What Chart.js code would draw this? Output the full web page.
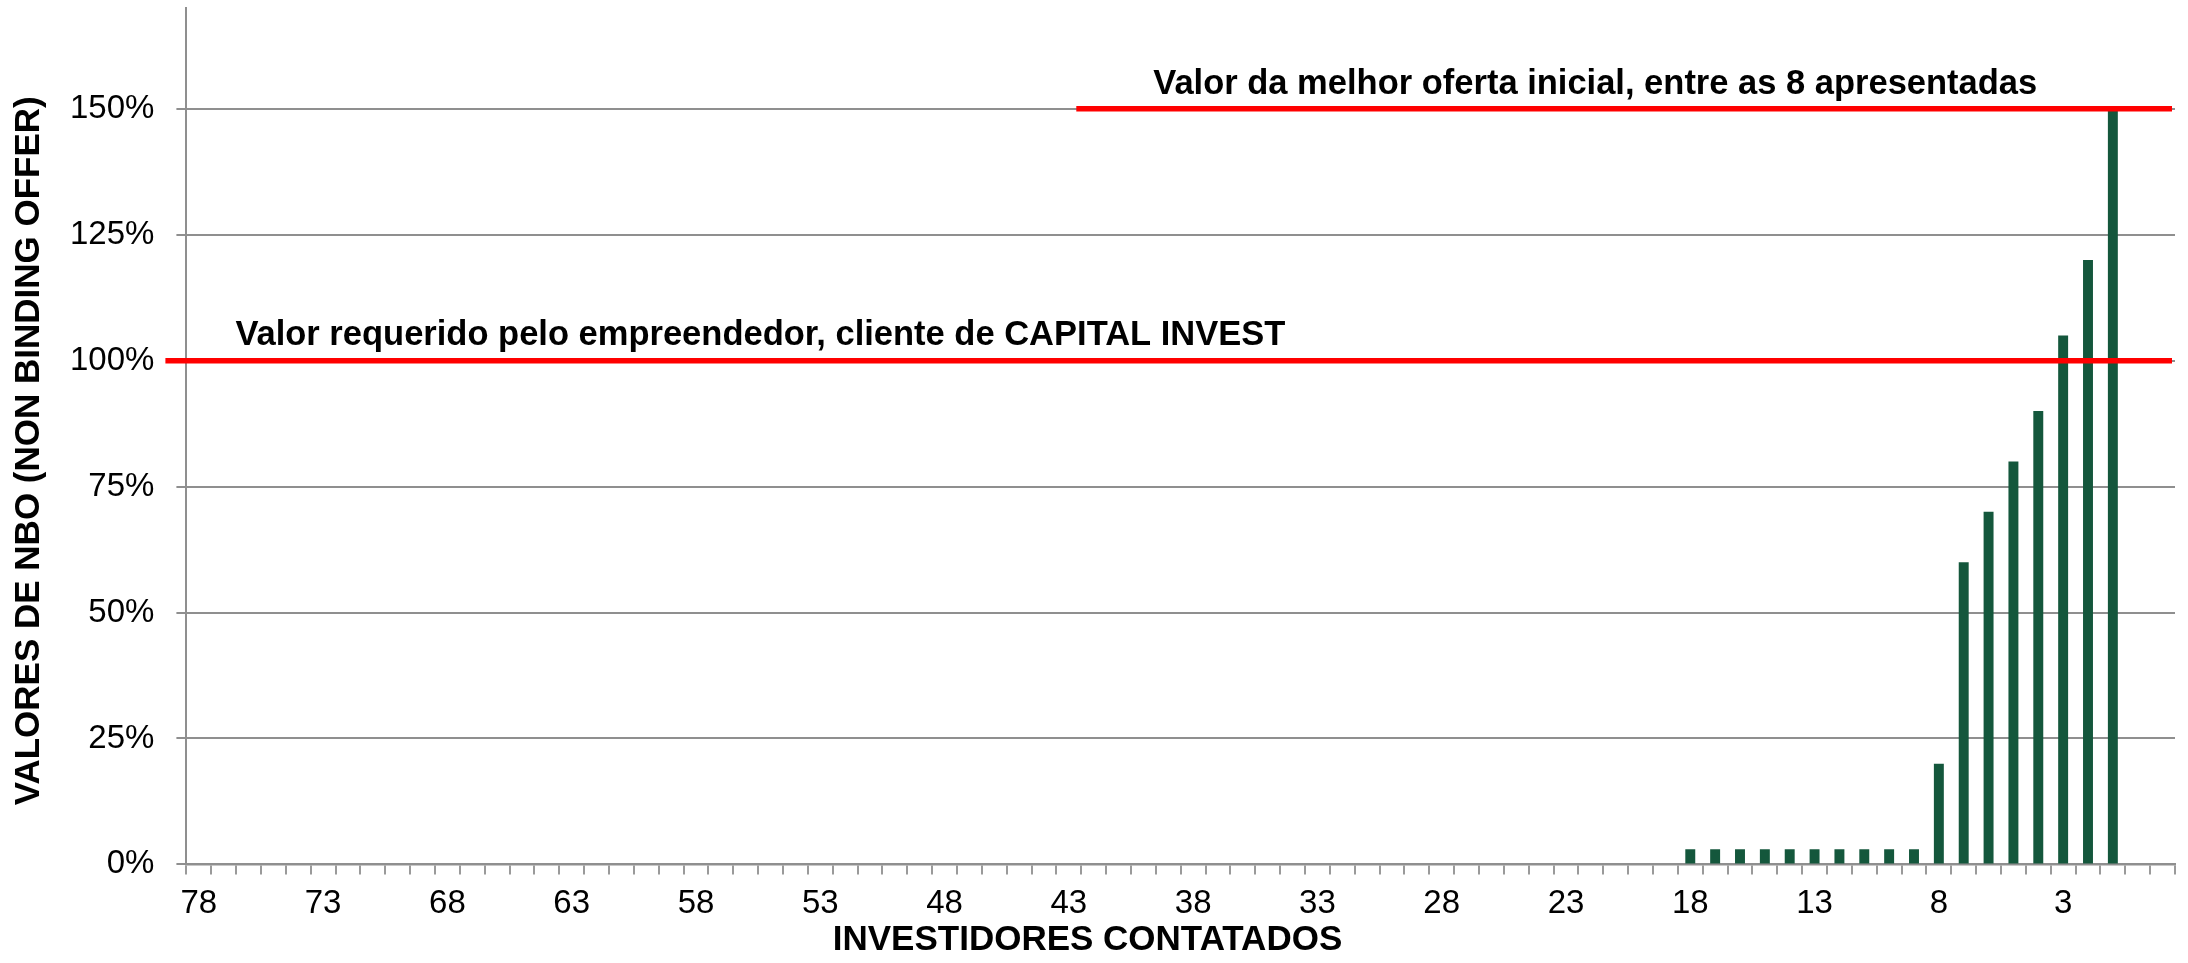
<!DOCTYPE html>
<html>
<head>
<meta charset="utf-8">
<script src="https://cdn.jsdelivr.net/npm/chart.js@4/dist/chart.umd.min.js"></script>
<style>
  body { margin: 0; background: #fff; }
  #wrap { width: 2188px; height: 963px; position: relative; }
</style>
</head>
<body>
<div id="wrap"><canvas id="chart"></canvas></div>
<script>
// investors contacted, counted down from 78 to 1 (two empty slots at the end)
var categories = ['78','77','76','75','74','73','72','71','70','69','68','67','66','65','64','63','62','61','60','59',
  '58','57','56','55','54','53','52','51','50','49','48','47','46','45','44','43','42','41','40','39',
  '38','37','36','35','34','33','32','31','30','29','28','27','26','25','24','23','22','21','20','19',
  '18','17','16','15','14','13','12','11','10','9','8','7','6','5','4','3','2','1','',''];

// NBO value in % of the amount required
var nboValues = [0,0,0,0,0,0,0,0,0,0,0,0,0,0,0,0,0,0,0,0,
  0,0,0,0,0,0,0,0,0,0,0,0,0,0,0,0,0,0,0,0,
  0,0,0,0,0,0,0,0,0,0,0,0,0,0,0,0,0,0,0,0,
  3,3,3,3,3,3,3,3,3,3,20,60,70,80,90,105,120,150,null,null];

var xTickLabels = ['78','73','68','63','58','53','48','43','38','33','28','23','18','13','8','3'];
var yTickValues = [0, 25, 50, 75, 100, 125, 150];

var refValues = [100, 150];
var refTexts = ['Valor requerido pelo empreendedor, cliente de CAPITAL INVEST',
                'Valor da melhor oferta inicial, entre as 8 apresentadas'];

var GRID = '#8f8f8f';
var FONT = '"Liberation Sans", Arial, sans-serif';

// red reference lines + their labels
var refLinePlugin = {
  id: 'refLines',
  afterDatasetsDraw: function (chart) {
    var ctx = chart.ctx;
    var x = chart.scales.x, y = chart.scales.y;
    var area = chart.chartArea;
    ctx.save();
    ctx.strokeStyle = '#ff0000';
    ctx.lineWidth = 5.5;
    ctx.fillStyle = '#000';
    ctx.font = 'bold 34.5px ' + FONT;
    ctx.textBaseline = 'alphabetic';

    // required value: spans the whole plot, starting over the tick marks
    var y1 = y.getPixelForValue(refValues[0]);
    ctx.beginPath();
    ctx.moveTo(area.left - 21, y1);
    ctx.lineTo(area.right - 3, y1);
    ctx.stroke();
    ctx.fillText(refTexts[0], area.left + 49, y1 - 16);

    // best offer: right part only
    var y2 = y.getPixelForValue(refValues[1]);
    var xs = x.getPixelForDecimal(0.4475);
    ctx.beginPath();
    ctx.moveTo(xs, y2);
    ctx.lineTo(area.right - 3, y2);
    ctx.stroke();
    ctx.fillText(refTexts[1], xs + 77, y2 - 15);
    ctx.restore();
  }
};

var ctx = document.getElementById('chart').getContext('2d');
var chart = new Chart(ctx, {
  type: 'bar',
  data: {
    labels: categories,
    datasets: [{
      label: 'NBO',
      data: nboValues,
      backgroundColor: '#14573c',
      borderWidth: 0,
      categoryPercentage: 1,
      barPercentage: 0.4
    }]
  },
  options: {
    responsive: true,
    maintainAspectRatio: false,
    animation: false,
    layout: { padding: { top: 8, right: 13, bottom: 0, left: 0 } },
    plugins: {
      legend: { display: false },
      tooltip: { enabled: false },
      title: {
        display: true,
        position: 'bottom',
        text: 'INVESTIDORES CONTATADOS',
        color: '#000',
        font: { family: FONT, size: 35, weight: 'bold' },
        padding: { top: -15, bottom: 2 }
      }
    },
    scales: {
      x: {
        grid: {
          offset: true,
          drawOnChartArea: false,
          drawTicks: true,
          tickLength: 10,
          color: '#9a9a9a',
          lineWidth: 2
        },
        border: { display: true, color: GRID, width: 2.5 },
        ticks: {
          autoSkip: false,
          maxRotation: 0,
          padding: 10,
          color: '#000',
          font: { family: FONT, size: 33 },
          callback: function (val, i) {
            var lab = categories[i];
            return xTickLabels.indexOf(lab) >= 0 ? lab : '';
          }
        }
      },
      y: {
        min: 0,
        max: 170,
        grid: { color: GRID, lineWidth: 2, tickLength: 10 },
        border: { display: true, color: GRID, width: 2 },
        afterBuildTicks: function (scale) {
          scale.ticks = yTickValues.map(function (v) { return { value: v }; });
        },
        afterFit: function (scale) {
          // the top label sits well below the top, no room needed for it
          scale.paddingTop = 0;
        },
        ticks: {
          padding: 22,
          color: '#000',
          font: { family: FONT, size: 33 },
          callback: function (v) { return v + '%'; }
        },
        title: {
          display: true,
          text: 'VALORES DE NBO (NON BINDING OFFER)   ',
          color: '#000',
          font: { family: FONT, size: 35, weight: 'bold' },
          padding: { top: 8, bottom: -2 }
        }
      }
    }
  },
  plugins: [refLinePlugin]
});
</script>
</body>
</html>
